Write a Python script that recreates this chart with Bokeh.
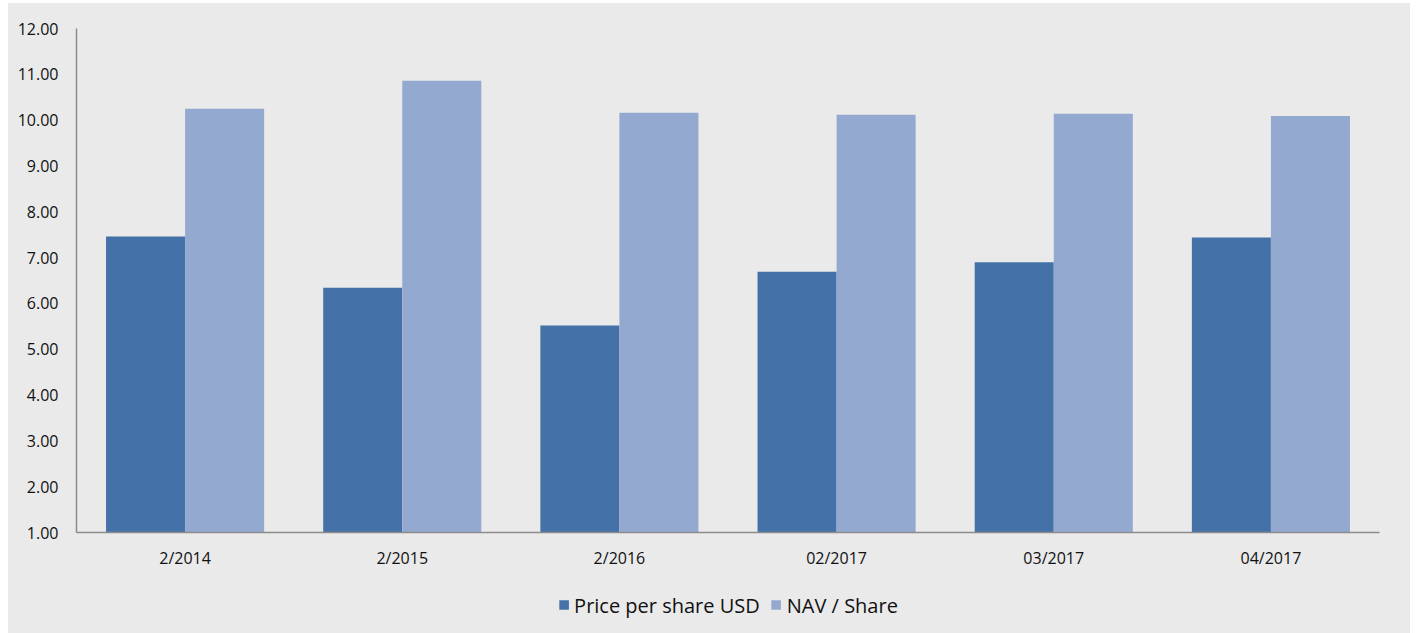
from bokeh.plotting import figure
from bokeh.layouts import column
from bokeh.models import ColumnDataSource, FactorRange, Range1d, FixedTicker, NumeralTickFormatter, Legend, LegendItem
from bokeh.transform import dodge
from bokeh.embed import file_html
from bokeh.resources import INLINE

categories = ["2/2014", "2/2015", "2/2016", "02/2017", "03/2017", "04/2017"]
price_per_share = [7.46, 6.34, 5.52, 6.69, 6.90, 7.44]
nav_per_share = [10.25, 10.86, 10.16, 10.12, 10.14, 10.09]
y_ticks = [1, 2, 3, 4, 5, 6, 7, 8, 9, 10, 11, 12]
series_names = ["Price per share USD", "NAV / Share"]

BG = "#EAEAEA"
DARK = "#4471A7"
LIGHT = "#94A9D0"
FONT = "Open Sans"

src = ColumnDataSource(dict(cat=categories, price=price_per_share, nav=nav_per_share,
                            base=[1] * len(categories)))

p = figure(x_range=FactorRange(*categories, range_padding=0), y_range=Range1d(1, 12),
           frame_width=1303, frame_height=504, output_backend="svg", toolbar_location=None,
           background_fill_color=BG, border_fill_color=BG, outline_line_color=None,
           min_border_left=68, min_border_right=31, min_border_top=25, min_border_bottom=48)

bw = 0.364
r1 = p.vbar(x=dodge("cat", -bw / 2, range=p.x_range), bottom="base", top="price", width=bw,
            source=src, fill_color=DARK, line_color=None)
r2 = p.vbar(x=dodge("cat", bw / 2, range=p.x_range), bottom="base", top="nav", width=bw,
            source=src, fill_color=LIGHT, line_color=None)

p.xgrid.visible = False
p.ygrid.visible = False

p.yaxis.ticker = FixedTicker(ticks=y_ticks)
p.yaxis.formatter = NumeralTickFormatter(format="0.00")
for ax in (p.xaxis[0], p.yaxis[0]):
    ax.axis_line_color = "#8C8C8C"
    ax.axis_line_width = 1.5
    ax.major_tick_line_color = None
    ax.minor_tick_line_color = None
    ax.major_tick_out = 0
    ax.major_tick_in = 0
    ax.minor_tick_out = 0
    ax.minor_tick_in = 0
    ax.major_label_text_font = FONT
    ax.major_label_text_font_size = "16px"
    ax.major_label_text_color = "#111111"
p.yaxis.major_label_standoff = 18
p.xaxis.major_label_standoff = 14

# legend strip under the chart (zero-height key bars only carry the legend swatches)
lg = figure(x_range=Range1d(0, 1), y_range=Range1d(0, 1), width=1402, height=53,
            output_backend="svg", toolbar_location=None, x_axis_location=None, y_axis_location=None,
            background_fill_color=BG, border_fill_color=BG, outline_line_color=None,
            min_border_left=0, min_border_right=6, min_border_top=0, min_border_bottom=4)
lg.xgrid.visible = False
lg.ygrid.visible = False
key_src = ColumnDataSource(dict(x=[0.5], y=[0]))
k1 = lg.vbar(x="x", top="y", bottom="y", width=0.01, source=key_src, fill_color=DARK, line_color=None)
k2 = lg.vbar(x="x", top="y", bottom="y", width=0.01, source=key_src, fill_color=LIGHT, line_color=None)
legend = Legend(items=[LegendItem(label=series_names[0], renderers=[k1]),
                       LegendItem(label=series_names[1], renderers=[k2])],
                orientation="horizontal", location="center",
                background_fill_alpha=0, border_line_color=None,
                label_text_font=FONT, label_text_font_size="20px", label_text_color="#111111",
                glyph_width=12, glyph_height=12, label_standoff=5, spacing=10,
                padding=0, margin=0)
lg.add_layout(legend, "center")

layout = column(p, lg, spacing=0, margin=(3, 0, 0, 8))
layout.background = BG

open("out.html", "w").write(file_html(layout, INLINE))
